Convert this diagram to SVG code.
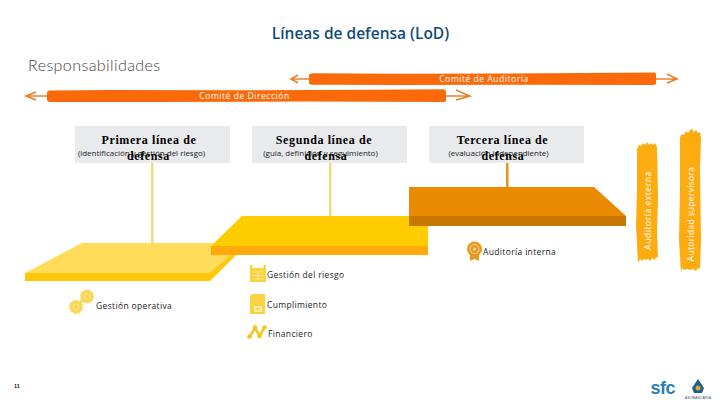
<svg xmlns="http://www.w3.org/2000/svg" width="720" height="405" viewBox="0 0 720 405">
<style>
.s{font-family:"Open Sans","Liberation Sans",sans-serif}
.bar{fill:#fa6a0a}
.arr{fill:none;stroke:#e8802c;stroke-width:1.6}
.wt{font-size:8.5px;fill:#fff;text-anchor:middle;letter-spacing:.55px}
.box{fill:#e9eaec}
.hd{font-family:"Liberation Serif",serif;font-weight:bold;font-size:12px;fill:#000;text-anchor:middle;letter-spacing:.6px}
.sub{font-size:7.95px;fill:#222;text-anchor:middle}
.lb{font-size:8.5px;fill:#1c1c1c;letter-spacing:.35px}
.ban{fill:#fcab10}
.ico{fill:#f9d340}
.gear{fill:#f8d65a;stroke:#f8d65a;stroke-width:2;stroke-dasharray:1.5 1.2}
.ring{fill:none;stroke:#fbe690;stroke-width:.9}
</style>
<rect width="720" height="405" fill="#fff"/>
<text class="s" x="360.500" y="39" font-size="15.500" font-weight="600" fill="#0f4c75" text-anchor="middle">Líneas de defensa (LoD)</text>
<text font-family="Lato,sans-serif" font-weight="300" x="28" y="71" font-size="16" fill="#444" letter-spacing=".42">Responsabilidades</text>
<g id="connectors">
<path class="arr" d="M291 79H309M298 75L291 79L298 83M656 79H677M667 74L677 79L667 83"/>
<path class="arr" d="M26 96H48M36 92L26 96L36 100M446 96H470M456 90L470 96L456 100"/>
<rect x="151" y="163" width="2.500" height="81" fill="#f0dc78"/>
<rect x="329" y="163" width="2.500" height="54" fill="#f0dc78"/>
<rect x="506" y="163" width="2.500" height="25" fill="#e8951e"/>
</g>
<g id="comite-auditoria">
<path class="bar" d="M309 74.500L312 73.200L400 73.800L500 73.500L620 72.800L655 72.600L656 74V84L654 85L520 84.800L400 85L311 84.800L309 83.500Z"/>
<text class="s wt" x="484" y="82">Comité de Auditoría</text>
</g>
<g id="comite-direccion">
<path class="bar" d="M47 92L49 90.500L110 90L250 90.200L370 89.800L444 89.200L446 91V101L444 102L300 101.600L150 102L49 102L47 100.500Z"/>
<text class="s wt" x="244.500" y="99">Comité de Dirección</text>
</g>
<g id="primera">
<rect class="box" x="75" y="126" width="155" height="37"/>
<text class="hd" x="149" y="144">Primera línea de</text>
<text class="s sub" x="141.500" y="156">(identificación y gestión del riesgo)</text>
<text class="hd" x="148.500" y="160">defensa</text>
</g>
<g id="segunda">
<rect class="box" x="252" y="126" width="155" height="37"/>
<text class="hd" x="324" y="144">Segunda línea de</text>
<text class="s sub" x="320.500" y="156">(guía, definición y seguimiento)</text>
<text class="hd" x="326" y="160">defensa</text>
</g>
<g id="tercera">
<rect class="box" x="429" y="126" width="155" height="37"/>
<text class="hd" x="502.500" y="144">Tercera línea de</text>
<text class="s sub" x="498.500" y="156">(evaluación independiente)</text>
<text class="hd" x="503" y="160">defensa</text>
</g>
<g id="plataforma-1">
<path d="M25 273L82 243H237V254L210 281H25Z" fill="#ffdc5a"/>
<path d="M25 273H210L232 254H237L210 281H25Z" fill="#ffc90a"/>
</g>
<g id="plataforma-2">
<path d="M211 246L242 216H428V246Z" fill="#ffcc00"/>
<rect x="211" y="246" width="217" height="9" fill="#ffa90a"/>
</g>
<g id="plataforma-3">
<path d="M409 187H594L626 216H409Z" fill="#ea8a00"/>
<rect x="409" y="216" width="217" height="10" fill="#c87800"/>
</g>
<g id="auditoria-externa">
<path class="ban" d="M637 149L639 145L641 146L643 143L645 145L647 142L649 145L651 143L653 145L655 143L657 147L658 200L657 230L658 258L656 257L655 260L652 258L650 261L648 259L646 260L644 259L642 261L640 259L638 263L636 225L637 190Z"/>
<text class="s wt" transform="translate(650.500 210.500) rotate(-90)" x="0" y="0">Auditoría externa</text>
</g>
<g id="autoridad-supervisora">
<path class="ban" d="M680 137L682 134L684 135L686 131L688 133L690 130L692 129L694 132L696 130L698 133L700 132L701 138L700 170L701 240L700 269L698 268L696 271L693 269L690 270L687 269L684 270L682 268L681 273L679 240L680 190Z"/>
<text class="s wt" style="letter-spacing:.3px" transform="translate(694 214) rotate(-90)" x="0" y="0">Autoridad supervisora</text>
</g>
<g id="gestion-operativa">
<path d="M76 307L87 296" stroke="#f8d65a" stroke-width="3"/>
<circle class="gear" cx="76" cy="307" r="6.200"/><circle class="ring" cx="76" cy="307" r="3"/>
<circle class="gear" cx="87" cy="296.500" r="6.200"/><circle class="ring" cx="87" cy="296.500" r="3"/>
<text class="s lb" x="96" y="309">Gestión operativa</text>
</g>
<g id="gestion-riesgo">
<rect class="ico" x="250" y="265" width="2.500" height="17"/><rect class="ico" x="263.500" y="265" width="2.500" height="17"/>
<rect class="ico" x="250" y="268" width="16" height="14"/>
<path d="M252.500 272H263.500M252.500 275.500H263.500M252.500 279H263.500M258 272V279" stroke="#fdf0a8" stroke-width=".8" fill="none"/>
<text class="s lb" x="267" y="278">Gestión del riesgo</text>
</g>
<g id="cumplimiento">
<path class="ico" d="M252 294H265V314H250V296Z"/>
<rect x="254" y="306" width="8" height="6" fill="#fdf0a8"/><circle class="ico" cx="258" cy="309" r="1.700"/>
<text class="s lb" x="267" y="308">Cumplimiento</text>
</g>
<g id="financiero">
<path d="M250 336L255 328L260 336L264 328" fill="none" stroke="#f4c61a" stroke-width="2.500"/>
<circle cx="249.500" cy="336.500" r="2.300" fill="#f4c61a"/><circle cx="255" cy="327.500" r="2.300" fill="#f4c61a"/><circle cx="259.500" cy="336" r="2.300" fill="#f4c61a"/><circle cx="264.500" cy="327.500" r="2.300" fill="#f4c61a"/>
<text class="s lb" x="268" y="337">Financiero</text>
</g>
<g id="auditoria-interna">
<circle cx="474.500" cy="249" r="7.500" fill="#e59a20"/><circle cx="474.500" cy="249" r="4.500" fill="none" stroke="#f8d8a0"/><circle cx="474.500" cy="249" r="1.500" fill="#f8d8a0"/>
<path d="M470 255H479V261L474.500 259L470 261Z" fill="#e59a20"/>
<text class="s lb" x="483" y="255">Auditoría interna</text>
</g>
<text font-family="Liberation Sans,sans-serif" font-size="5.500" font-weight="bold" x="14" y="388" fill="#222">11</text>
<g id="logo-sfc">
<text font-family="Liberation Sans,sans-serif" font-weight="bold" font-size="18" x="650.500" y="394" fill="#2d7fb5" textLength="25">sfc</text>
</g>
<g id="logo-asobancaria">
<path d="M698 379L704 388L702 393H694L692 388Z" fill="#1f5f8a"/><circle cx="698" cy="388" r="2.500" fill="#d8a838"/>
<text font-family="Liberation Sans,sans-serif" font-size="3.500" x="698" y="398.500" fill="#456" text-anchor="middle" textLength="26">ASOBANCARIA</text>
</g>
</svg>
